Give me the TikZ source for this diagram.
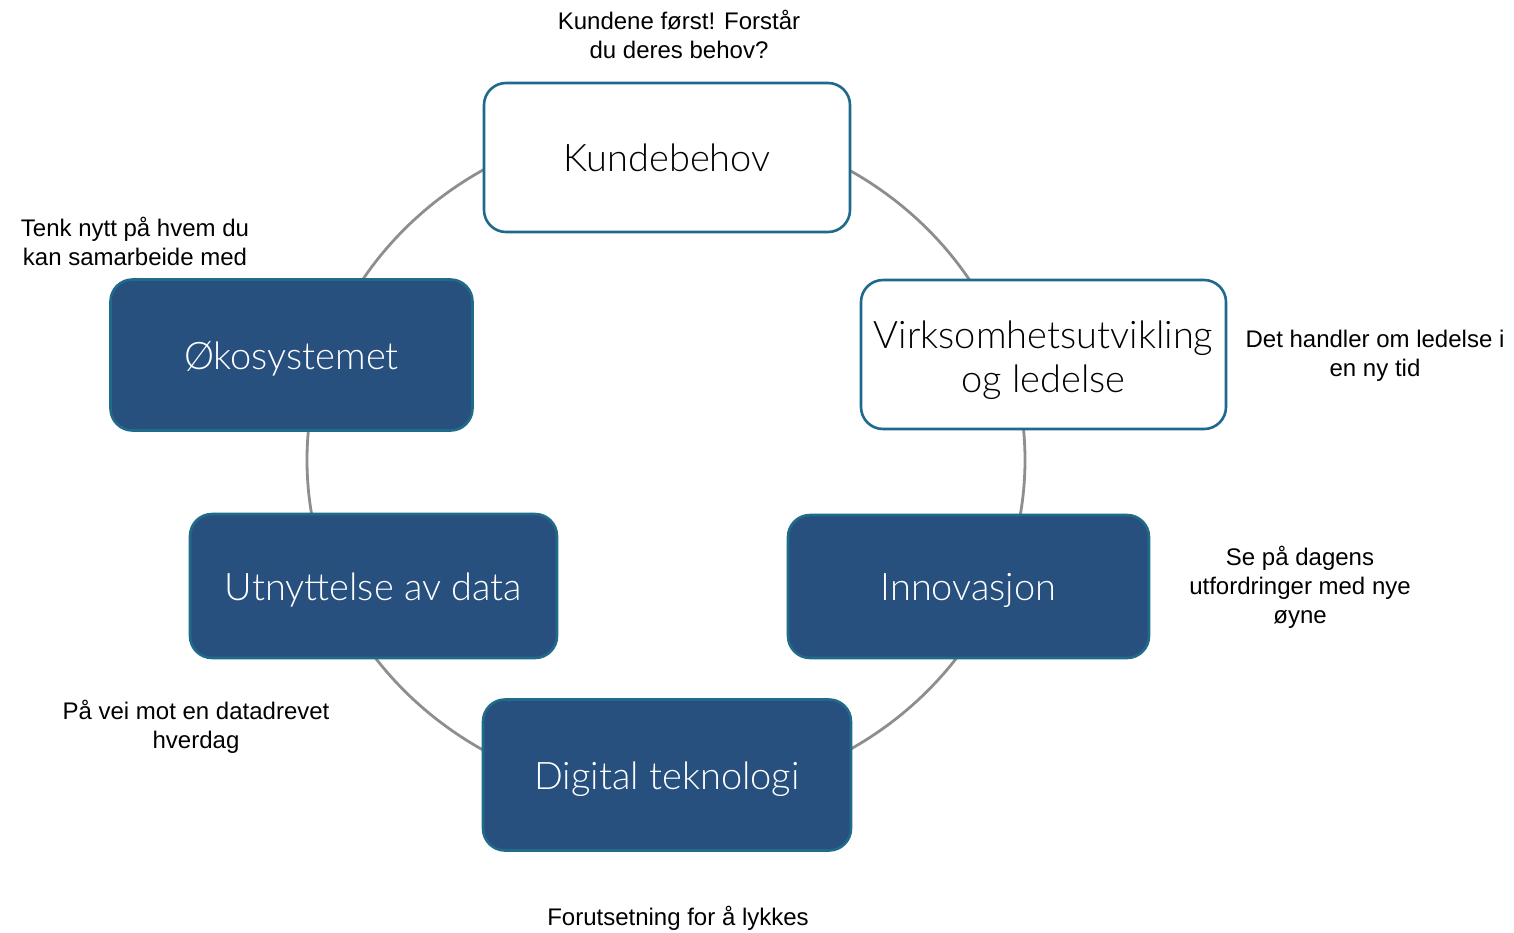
\documentclass[tikz,border=0pt]{standalone}
\usepackage{fontspec}
\setmainfont{Liberation Sans}
\newfontfamily\boxfont{Lato Light}
\definecolor{boxblue}{HTML}{27507F}
\definecolor{boxedge}{HTML}{1D6A8C}
\definecolor{darkedge}{HTML}{206A8A}
\definecolor{ringgray}{HTML}{8E8E8E}
\begin{document}
\begin{tikzpicture}[x=1pt,y=-1pt,
  stagebox/.style={rounded corners=22pt, line width=2.6pt, align=center,
    inner sep=0pt, font=\boxfont\fontsize{38}{44}\selectfont},
  onebox/.style={text height=31pt, text depth=3pt},
  lightbox/.style={stagebox, draw=boxedge, fill=white, text=black},
  darkbox/.style={stagebox, onebox, draw=darkedge, fill=boxblue, text=white},
  note/.style={align=center, inner sep=0pt, font=\fontsize{24}{29}\selectfont, text=black},
  ring/.style={draw=ringgray, line width=2.8pt}]
\useasboundingbox (0,0) rectangle (1514,932);
\coordinate (ringc) at (666,460);
\draw[ring] (ringc) ellipse [x radius=359pt, y radius=337pt];

\node[lightbox, onebox, minimum width=366pt, minimum height=149pt] (kunde) at (667,157.5) {Kundebehov};
\node[lightbox, minimum width=365pt, minimum height=149pt] (virk) at (1043.5,354.5) {\rule{0pt}{40pt}Virksomhetsutvikling\\og ledelse};
\node[darkbox, minimum width=361pt, minimum height=143pt] (inno) at (968.5,586.5) {Innovasjon};
\node[darkbox, minimum width=368pt, minimum height=151pt] (digi) at (667,775) {Digital teknologi};
\node[darkbox, minimum width=367pt, minimum height=144pt] (utn) at (373.5,586) {Utnyttelse av data};
\node[darkbox, minimum width=362pt, minimum height=151pt] (oko) at (291.5,355) {Økosystemet};

\node[note] (nkunde) at (679,34.5) {Kundene først! Forstår\\du deres behov?};
\node[note] (nvirk) at (1375,355.5) {Det handler om ledelse i\\en ny tid};
\node[note] (ninno) at (1300,587) {Se på dagens\\utfordringer med nye\\øyne};
\node[note] (ndigi) at (678,918) {Forutsetning for å lykkes};
\node[note] (nutn) at (196,726.5) {På vei mot en datadrevet\\hverdag};
\node[note] (noko) at (135,241.5) {Tenk nytt på hvem du\\kan samarbeide med};
\end{tikzpicture}
\end{document}
